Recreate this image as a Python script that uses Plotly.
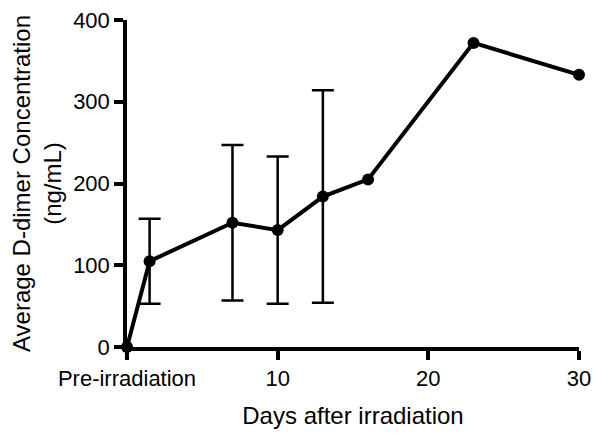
import plotly.graph_objects as go

days = [0, 1.5, 7, 10, 13, 16, 23, 30]
ddimer = [0, 105, 152, 143, 184, 205, 372, 333]
# standard deviations shown only for days 1.5, 7, 10 and 13 (indices 1..4)
sd = [52, 95, 90, 130]

x_tickvals = [0, 10, 20, 30]
x_ticktext = ["Pre-irradiation", "10", "20", "30"]
y_tickvals = [0, 100, 200, 300, 400]

fig = go.Figure()
fig.add_trace(go.Scatter(
    x=days[1:5], y=ddimer[1:5],
    mode="markers",
    marker=dict(color="black", size=1, opacity=0),
    error_y=dict(type="data", array=sd, visible=True, color="black",
                 thickness=2.5, width=11),
    cliponaxis=False,
    showlegend=False,
    hoverinfo="skip",
))
fig.add_trace(go.Scatter(
    x=days, y=ddimer,
    mode="lines+markers",
    line=dict(color="black", width=4),
    marker=dict(color="black", size=12),
    cliponaxis=False,
    showlegend=False,
))

font = dict(family="Liberation Sans, Arial, sans-serif", color="black")

fig.update_layout(
    width=592, height=429,
    margin=dict(l=119, r=21, t=12, b=90),
    paper_bgcolor="white", plot_bgcolor="white",
    font=font,
    xaxis=dict(
        range=[0, 30], tickvals=x_tickvals, ticktext=x_ticktext,
        showline=True, linecolor="black", linewidth=3.5,
        ticks="outside", ticklen=9, tickwidth=3.5, tickcolor="black",
        showgrid=False, zeroline=False, automargin=False,
        ticklabeloverflow="allow",
        tickfont=dict(size=22, **font),
        title=dict(text="Days after irradiation", font=dict(size=24, **font), standoff=18),
    ),
    yaxis=dict(
        range=[0, 400], tickvals=y_tickvals,
        showline=True, linecolor="black", linewidth=3.5,
        ticks="outside", ticklen=9, tickwidth=3.5, tickcolor="black",
        showgrid=False, zeroline=False, automargin=False,
        ticklabeloverflow="allow",
        tickfont=dict(size=22, **font),
        title=dict(text="Average D-dimer Concentration<br>(ng/mL)",
                   font=dict(size=24, **font), standoff=8),
    ),
)

fig.write_html("out.html")
